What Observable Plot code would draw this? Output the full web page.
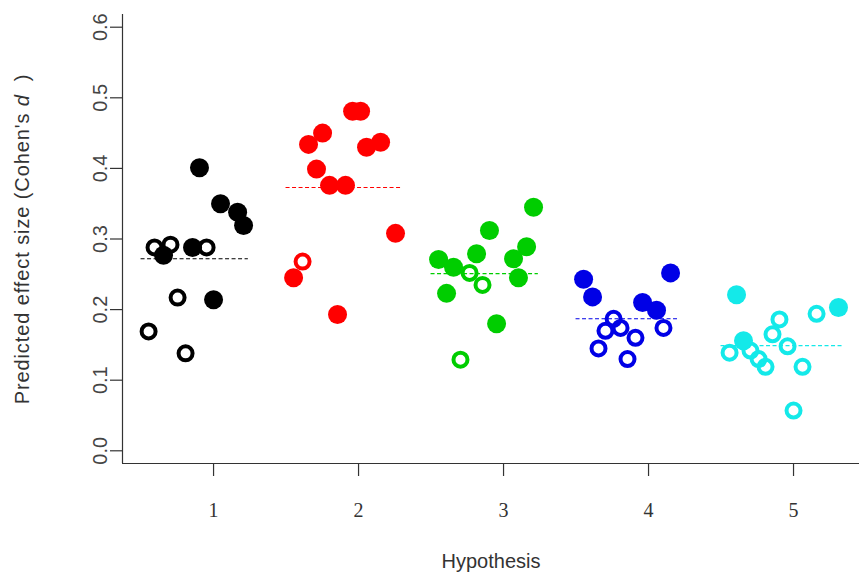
<!DOCTYPE html>
<html>
<head>
<meta charset="utf-8">
<script src="https://cdn.jsdelivr.net/npm/d3@7"></script>
<script src="https://cdn.jsdelivr.net/npm/@observablehq/plot@0.6"></script>
<style>
  html, body { margin: 0; padding: 0; background: #ffffff; }
  #chart svg { display: block; }
</style>
</head>
<body>
<div id="chart"></div>
<script>
// Predicted effect sizes per hypothesis, one entry per prediction.
// hyp: hypothesis number, pos: jittered horizontal position, effect: Cohen's d,
// filled: solid marker (1) or hollow marker (0).
const hyp = [
  1,1,1,1,1,1,1, 1,1,1,1,1,1,
  2,2,2,2,2,2,2,2,2,2,2,2, 2,
  3,3,3,3,3,3,3,3,3,3, 3,3,3,
  4,4,4,4,4, 4,4,4,4,4,4,4,
  5,5,5, 5,5,5,5,5,5,5,5,5,5
];
const pos = [
  0.903,1.048,1.166,1.207,0.855,0.655,1.000, 0.593,0.703,0.952,0.752,0.552,0.807,
  1.959,2.014,1.752,1.655,2.055,2.152,1.710,1.800,1.910,2.255,1.552,1.855, 1.614,
  3.207,2.903,2.814,3.159,3.069,2.552,2.655,3.103,2.607,2.952, 2.766,2.855,2.703,
  3.552,3.614,3.959,4.055,4.152, 3.759,3.807,3.703,3.910,4.103,3.655,3.855,
  4.607,5.310,4.655, 5.159,4.903,4.855,4.559,4.959,4.703,4.759,4.807,5.062,5.000
];
const effect = [
  0.401,0.350,0.338,0.319,0.288,0.277,0.214, 0.288,0.292,0.288,0.217,0.169,0.138,
  0.481,0.481,0.450,0.434,0.430,0.437,0.399,0.376,0.376,0.308,0.245,0.193, 0.268,
  0.345,0.312,0.279,0.289,0.272,0.271,0.260,0.245,0.223,0.180, 0.252,0.235,0.129,
  0.243,0.218,0.210,0.199,0.252, 0.187,0.174,0.170,0.160,0.174,0.145,0.130,
  0.221,0.203,0.156, 0.194,0.186,0.165,0.139,0.148,0.142,0.130,0.119,0.119,0.057
];
const filled = [
  1,1,1,1,1,1,1, 0,0,0,0,0,0,
  1,1,1,1,1,1,1,1,1,1,1,1, 0,
  1,1,1,1,1,1,1,1,1,1, 0,0,0,
  1,1,1,1,1, 0,0,0,0,0,0,0,
  1,1,1, 0,0,0,0,0,0,0,0,0,0
];

// Group means, drawn as dashed segments
const hypotheses = [1, 2, 3, 4, 5];
const groupMean = [0.272, 0.373, 0.251, 0.187, 0.149];
const meanFrom = [0.50, 1.50, 2.50, 3.50, 4.50];
const meanTo = [1.24, 2.29, 3.24, 4.20, 5.34];

const groupColor = ["#000000", "#ff0000", "#00cd00", "#0000e6", "#14e9e9"];

const yTicks = [0.0, 0.1, 0.2, 0.3, 0.4, 0.5, 0.6];
const xDomain = [0.372, 5.455];
const yDomain = [-0.018, 0.618];

const xTitle = "Hypothesis";
const yTitle = ["Predicted effect size (Cohen's ", "d", " )"];

const points = hyp.map((h, i) => ({
  hyp: h, pos: pos[i], effect: effect[i], filled: filled[i] === 1,
  color: groupColor[h - 1]
}));
const means = hypotheses.map((h, i) => ({
  hyp: h, mean: groupMean[i], from: meanFrom[i], to: meanTo[i], color: groupColor[i]
}));

const sans = "'Liberation Sans', Arial, sans-serif";
const serif = "'Liberation Serif', 'Times New Roman', serif";

const chart = Plot.plot({
  width: 859,
  height: 576,
  marginLeft: 122,
  marginRight: 0,
  marginTop: 14,
  marginBottom: 113,
  style: { background: "#ffffff", fontFamily: sans },
  x: { domain: xDomain },
  y: { domain: yDomain },
  marks: [
    // L-shaped box
    Plot.ruleX([xDomain[0]], { y1: yDomain[0], y2: yDomain[1], stroke: "#333", strokeWidth: 1.2 }),
    Plot.ruleY([yDomain[0]], { x1: xDomain[0], x2: xDomain[1], stroke: "#333", strokeWidth: 1.2 }),
    Plot.axisY({
      ticks: yTicks, tickFormat: d => d.toFixed(1), label: null,
      tickSize: 12, tickPadding: 3.5, tickRotate: -90,
      fontSize: 20, fontFamily: sans, fill: "#444", stroke: "#333", strokeWidth: 1.2
    }),
    Plot.axisX({
      ticks: hypotheses, tickFormat: d => String(d), label: null,
      tickSize: 13, tickPadding: 26,
      fontSize: 20, fontFamily: serif, fill: "#333", stroke: "#333", strokeWidth: 1.2
    }),
    // group means
    Plot.ruleY(means, {
      y: "mean", x1: "from", x2: "to", stroke: "color",
      strokeWidth: 1.1, strokeDasharray: "4,2.5"
    }),
    // solid markers
    Plot.dot(points.filter(d => d.filled), {
      x: "pos", y: "effect", r: 9.5, fill: "color", stroke: "none"
    }),
    // hollow markers
    Plot.dot(points.filter(d => !d.filled), {
      x: "pos", y: "effect", r: 7, fill: "none", stroke: "color", strokeWidth: 4
    }),
    Plot.text([xTitle], {
      text: d => d, frameAnchor: "bottom", dy: 104,
      fontSize: 20, fontFamily: sans, fill: "#333"
    }),
    Plot.text([yTitle.join("")], {
      text: d => d, frameAnchor: "left", textAnchor: "middle", dx: -100, rotate: -90,
      fontSize: 20, fontFamily: sans, fill: "#333"
    })
  ]
});

// italicise the "d" in the y title and space it out a little
d3.select(chart).selectAll("text")
  .filter(function () { return this.textContent === yTitle.join(""); })
  .each(function () {
    const t = d3.select(this);
    t.text(null).attr("letter-spacing", "0.9px").style("white-space", "pre");
    t.append("tspan").text(yTitle[0]);
    t.append("tspan").attr("font-style", "italic").text(yTitle[1]);
    t.append("tspan").text(" " + yTitle[2]);
  });

document.getElementById("chart").appendChild(chart);
</script>
</body>
</html>
